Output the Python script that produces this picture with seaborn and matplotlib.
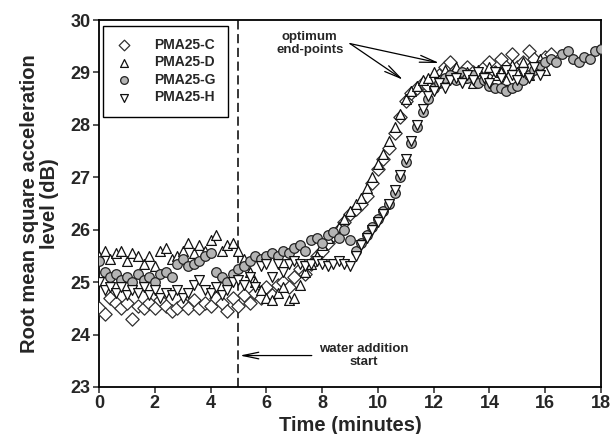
import numpy as np
import pandas as pd
import matplotlib
matplotlib.use("Agg")
import matplotlib.pyplot as plt
import seaborn as sns

# ---------------- data ----------------
TIME = [0.0, 0.2, 0.4, 0.6, 0.8, 1.0, 1.2, 1.4, 1.6, 1.8,
        2.0, 2.2, 2.4, 2.6, 2.8, 3.0, 3.2, 3.4, 3.6, 3.8,
        4.0, 4.2, 4.4, 4.6, 4.8, 5.0, 5.2, 5.4, 5.6, 5.8,
        6.0, 6.2, 6.4, 6.6, 6.8, 7.0, 7.2, 7.4, 7.6, 7.8,
        8.0, 8.2, 8.4, 8.6, 8.8, 9.0, 9.2, 9.4, 9.6, 9.8,
        10.0, 10.2, 10.4, 10.6, 10.8, 11.0, 11.2, 11.4, 11.6, 11.8,
        12.0, 12.2, 12.4, 12.6, 12.8, 13.0, 13.2, 13.4, 13.6, 13.8,
        14.0, 14.2, 14.4, 14.6, 14.8, 15.0, 15.2, 15.4, 15.6, 15.8,
        16.0, 16.2, 16.4, 16.6, 16.8, 17.0, 17.2, 17.4, 17.6, 17.8,
        18.0]

pma25_c = [24.5, 24.4, 24.7, 24.6, 24.5, 24.6, 24.3, 24.55, 24.5, 24.6,
           24.5, 24.65, 24.55, 24.45, 24.5, 24.6, 24.5, 24.65, 24.5, 24.6,
           24.55, 24.7, 24.6, 24.45, 24.7, 24.55, 24.75, 24.6, 24.8, 24.7,
           24.9, 24.75, 24.95, 25.0, 24.9, 25.1, 25.25, 25.15, 25.35, 25.5,
           25.6, 25.75, 25.9, 26.0, 26.15, 26.3, 26.4, 26.5, 26.65, 26.9,
           27.15, 27.35, 27.55, 27.85, 28.15, 28.45, 28.6, 28.7, 28.8, 28.75,
           28.9, 28.95, 29.1, 29.2, 29.0, 28.9, 29.1, 29.0, 28.85, 29.1,
           29.2, 29.0, 29.25, 29.1, 29.35, 29.1, 29.2, 29.4, 29.25, 29.1,
           29.3, 29.35]

pma25_d = [25.5, 25.6, 25.45, 25.55, 25.6, 25.4, 25.55, 25.5, 25.35, 25.5,
           25.3, 25.6, 25.65, 25.45, 25.5, 25.6, 25.75, 25.55, 25.7, 25.6,
           25.8, 25.9, 25.6, 25.7, 25.75, 25.6, 25.45, 25.2, 25.0, 24.85,
           24.7, 24.65, 24.8, 24.9, 24.65, 24.7, 24.95, 25.2, 25.35, 25.5,
           25.7, 25.85, 25.95, 26.05, 26.2, 26.35, 26.5, 26.6, 26.8, 27.0,
           27.25, 27.45, 27.7, 27.95, 28.2, 28.5, 28.65, 28.75, 28.85, 28.9,
           29.0, 28.85, 29.05, 28.95, 29.1, 28.9, 29.0, 28.8, 29.05, 28.9,
           29.1, 28.95, 29.0, 28.85, 29.15, 29.0, 29.2, 28.95, 29.1, 29.25,
           29.05]

pma25_g = [25.4, 25.2, 25.1, 25.15, 25.05, 25.1, 25.0, 25.15, 25.05, 25.1,
           25.0, 25.15, 25.2, 25.1, 25.35, 25.45, 25.3, 25.35, 25.4, 25.5,
           25.55, 25.2, 25.1, 25.0, 25.15, 25.25, 25.3, 25.4, 25.5, 25.45,
           25.5, 25.55, 25.5, 25.6, 25.55, 25.65, 25.7, 25.6, 25.8, 25.85,
           25.75, 25.9, 25.95, 25.85, 26.0, 25.8, 25.6, 25.75, 25.9, 26.05,
           26.2, 26.35, 26.5, 26.7, 27.0, 27.3, 27.65, 27.95, 28.25, 28.5,
           28.7, 28.8, 28.9, 28.95, 28.85, 29.0, 28.9, 28.95, 28.8, 28.85,
           28.75, 28.7, 28.7, 28.65, 28.7, 28.75, 28.85, 28.95, 29.05, 29.15,
           29.2, 29.25, 29.2, 29.35, 29.4, 29.25, 29.2, 29.3, 29.25, 29.4,
           29.45]

pma25_h = [25.0, 24.85, 24.9, 24.8, 24.9, 24.75, 24.85, 24.8, 24.9, 24.75,
           24.85, 24.7, 24.8, 24.75, 24.85, 24.7, 24.8, 24.95, 25.05, 24.85,
           24.8, 24.9, 24.75, 24.85, 25.0, 25.05, 24.95, 25.1, 24.9, 25.3,
           25.35, 25.1, 25.35, 25.2, 25.35, 25.4, 25.35, 25.3, 25.35, 25.4,
           25.35, 25.3, 25.35, 25.4, 25.35, 25.3, 25.5, 25.7, 25.85, 26.0,
           26.15, 26.3, 26.5, 26.75, 27.05, 27.35, 27.7, 28.0, 28.3, 28.55,
           28.65, 28.8, 28.7, 28.85, 28.9, 28.8, 28.95, 28.85, 29.0, 28.9,
           28.8, 29.0, 28.9, 29.05, 28.95, 28.85, 29.0, 28.9, 29.1, 28.95]

SERIES = ["PMA25-C", "PMA25-D", "PMA25-G", "PMA25-H"]
VALUES = [pma25_c, pma25_d, pma25_g, pma25_h]
X_TICKS = [0, 2, 4, 6, 8, 10, 12, 14, 16, 18]
Y_TICKS = [23, 24, 25, 26, 27, 28, 29, 30]

frames = []
for name, vals in zip(SERIES, VALUES):
    frames.append(pd.DataFrame({"time": TIME[:len(vals)], "level": vals, "series": name}))
df = pd.concat(frames, ignore_index=True)

# ---------------- style ----------------
sns.set_style("ticks")
plt.rcParams["font.family"] = ["Liberation Sans", "DejaVu Sans"]
plt.rcParams["font.weight"] = "bold"

fig = plt.figure(figsize=(6.13, 4.34), dpi=100)
ax = fig.add_axes([0.1615, 0.1083, 0.819, 0.8456])

styles = {
    "PMA25-C": dict(marker="D", s=46, facecolor="white", edgecolor="#303030"),
    "PMA25-D": dict(marker="^", s=50, facecolor="white", edgecolor="#111111"),
    "PMA25-G": dict(marker="o", s=48, facecolor="#b4b4b4", edgecolor="#222222"),
    "PMA25-H": dict(marker="v", s=50, facecolor="white", edgecolor="#111111"),
}
for name in SERIES:
    sub = df[df["series"] == name]
    st = styles[name]
    sns.scatterplot(data=sub, x="time", y="level", ax=ax, marker=st["marker"],
                    s=st["s"], color=st["facecolor"], edgecolor=st["edgecolor"],
                    linewidth=0.9, label=name, zorder=3)

ax.axvline(5, color="black", linestyle=(0, (6, 3)), linewidth=1.1, zorder=2)

ax.set_xlim(0, 18)
ax.set_ylim(23, 30)
ax.set_xticks(X_TICKS)
ax.set_yticks(Y_TICKS)
ax.tick_params(axis="both", direction="out", length=4, width=1.1, labelsize=13, pad=2)
for lab in ax.get_xticklabels() + ax.get_yticklabels():
    lab.set_fontweight("bold")
for sp in ax.spines.values():
    sp.set_visible(True)
    sp.set_linewidth(1.3)
    sp.set_color("black")

ax.set_xlabel("Time (minutes)", fontsize=14.5, fontweight="bold", labelpad=3)
ax.set_ylabel("Root mean square acceleration\nlevel (dB)", fontsize=14.5,
              fontweight="bold", labelpad=8, linespacing=1.1)

# annotations
ax.annotate("water addition\nstart", xy=(5.05, 23.6), xytext=(9.5, 23.6),
            ha="center", va="center", fontsize=9.5, fontweight="bold",
            arrowprops=dict(arrowstyle="->,head_length=1.2,head_width=0.25",
                            color="black", lw=0.9, shrinkA=3, shrinkB=0))
ax.text(7.56, 29.56, "optimum\nend-points", ha="center", va="center",
        fontsize=9.5, fontweight="bold", linespacing=1.1)
for tip in [(10.9, 28.86), (12.2, 29.18)]:
    ax.annotate("", xy=tip, xytext=(9.0, 29.55),
                arrowprops=dict(arrowstyle="->,head_length=1.2,head_width=0.25",
                                color="black", lw=0.9, shrinkA=0, shrinkB=0))

leg = ax.legend(loc="upper left", bbox_to_anchor=(0.008, 0.985), frameon=True,
                fancybox=False, edgecolor="black", framealpha=1,
                prop={"size": 10, "weight": "bold"}, handletextpad=1.6,
                labelspacing=0.25, borderpad=0.9, borderaxespad=0,
                markerscale=0.8, handlelength=1.2)
leg.get_frame().set_linewidth(1.0)

fig.savefig("out.png", dpi=100)
